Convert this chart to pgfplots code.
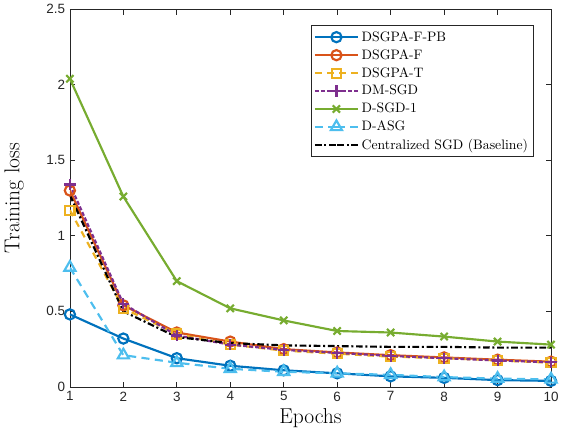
\documentclass[border=0pt]{standalone}
\usepackage{fontspec}
\usepackage{pgfplots}
\pgfplotsset{compat=1.18}
\newfontfamily\tickfont{Liberation Sans}

\definecolor{mblue}{rgb}{0,0.447,0.741}
\definecolor{morange}{rgb}{0.85,0.325,0.098}
\definecolor{myellow}{rgb}{0.929,0.694,0.125}
\definecolor{mpurple}{rgb}{0.494,0.184,0.556}
\definecolor{mgreen}{rgb}{0.466,0.674,0.188}
\definecolor{mcyan}{rgb}{0.301,0.745,0.933}
\definecolor{axgray}{gray}{0.15}

\begin{document}
\begin{tikzpicture}
\begin{axis}[
    scale only axis,
    width=358pt, height=281pt,
    xmin=1, xmax=10,
    ymin=0, ymax=2.5,
    xtick={1,...,10},
    ytick={0,0.5,1,1.5,2,2.5},
    xticklabel={\pgfmathprintnumber{\tick}},
    yticklabel={\pgfmathprintnumber{\tick}},
    tick align=inside,
    tick pos=both,
    major tick length=4pt,
    axis line style={axgray, line width=0.5pt},
    tick style={axgray, line width=0.5pt},
    tick label style={font=\tickfont\fontsize{10}{12}\selectfont, text=axgray},
    /pgf/number format/assume math mode=true,
    xlabel={Epochs},
    ylabel={Training loss},
    label style={font=\fontsize{16}{18}\selectfont},
    xlabel style={yshift=1pt},
    ylabel style={yshift=10pt},
    every axis plot/.append style={line width=1.6pt, mark size=3.8pt, mark options={solid, fill=none}},
    legend cell align=left,
    legend style={at={(0.964,0.957)}, anchor=north east, font=\fontsize{10.2}{12}\selectfont,
        draw=axgray, line width=0.6pt, inner sep=2pt, row sep=0.6pt},
    legend image code/.code={\draw[#1] (0pt,0pt) -- (16pt,0pt) (32pt,0pt) -- (16pt,0pt); \draw[#1, mark repeat=1] plot coordinates {(16pt,0pt)};},
]
\addplot[mblue, mark=o] coordinates {
    (1,0.48) (2,0.32) (3,0.19) (4,0.14) (5,0.11) (6,0.09) (7,0.07) (8,0.06) (9,0.045) (10,0.04)
};
\addlegendentry{DSGPA-F-PB}
\addplot[morange, mark=o] coordinates {
    (1,1.30) (2,0.54) (3,0.36) (4,0.30) (5,0.25) (6,0.228) (7,0.21) (8,0.195) (9,0.18) (10,0.167)
};
\addlegendentry{DSGPA-F}
\addplot[myellow, dash pattern=on 5pt off 4pt, mark=square, mark size=3.4pt] coordinates {
    (1,1.17) (2,0.52) (3,0.35) (4,0.28) (5,0.24) (6,0.22) (7,0.20) (8,0.19) (9,0.175) (10,0.16)
};
\addlegendentry{DSGPA-T}
\addplot[mpurple, dash pattern=on 3pt off 1.5pt, mark=+, mark size=4.2pt] coordinates {
    (1,1.34) (2,0.55) (3,0.34) (4,0.28) (5,0.245) (6,0.225) (7,0.205) (8,0.19) (9,0.175) (10,0.163)
};
\addlegendentry{DM-SGD}
\addplot[mgreen, mark=x] coordinates {
    (1,2.04) (2,1.26) (3,0.70) (4,0.52) (5,0.44) (6,0.37) (7,0.36) (8,0.333) (9,0.30) (10,0.28)
};
\addlegendentry{D-SGD-1}
\addplot[mcyan, dash pattern=on 6pt off 4pt, mark=triangle, mark size=4.8pt] coordinates {
    (1,0.79) (2,0.21) (3,0.16) (4,0.12) (5,0.10) (6,0.09) (7,0.08) (8,0.065) (9,0.055) (10,0.05)
};
\addlegendentry{D-ASG}
\addplot[black, dash pattern=on 5pt off 2pt on 1.5pt off 2pt] coordinates {
    (1,1.27) (2,0.50) (3,0.33) (4,0.29) (5,0.275) (6,0.27) (7,0.265) (8,0.265) (9,0.26) (10,0.26)
};
\addlegendentry{Centralized SGD (Baseline)}
\end{axis}
\end{tikzpicture}
\end{document}
